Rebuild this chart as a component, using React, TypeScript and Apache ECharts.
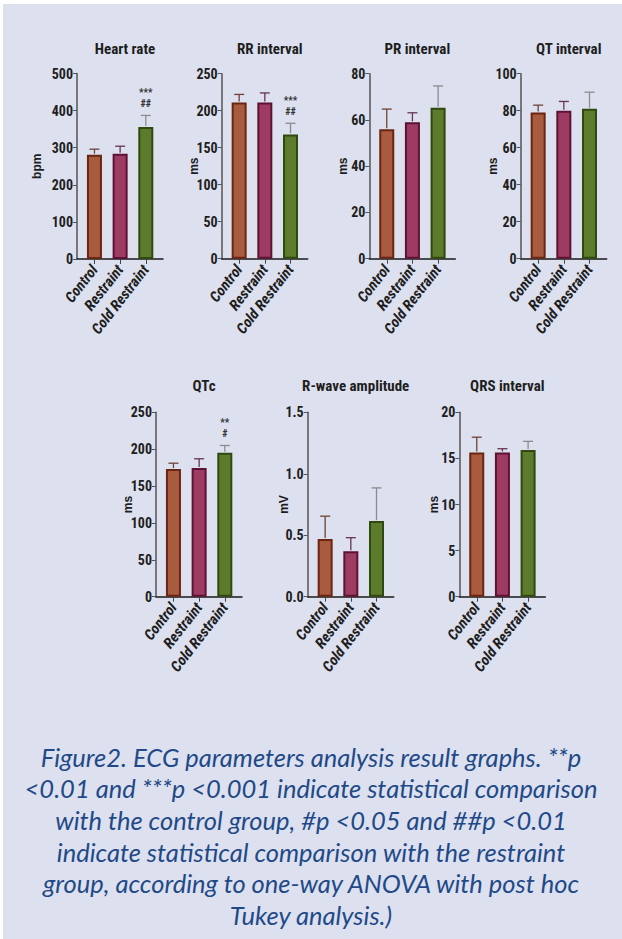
import React, { useEffect, useRef } from "react";
import * as echarts from "echarts";

// ---------- data ----------
const categories = ["Control", "Restraint", "Cold Restraint"];
const panelTitles = ["Heart rate", "RR interval", "PR interval", "QT interval", "QTc", "R-wave amplitude", "QRS interval"];
const units = ["bpm", "ms", "ms", "ms", "ms", "mV", "ms"];

const heartRateMean = [281, 284, 356];
const heartRateErr = [15, 20, 31];
const heartRateAnnot = [[], [], ["***", "##"]];

const rrMean = [211, 211, 168];
const rrErr = [11, 13, 15];
const rrAnnot = [[], [], ["***", "##"]];

const prMean = [56, 59, 65.3];
const prErr = [8.7, 4.1, 9.4];

const qtMean = [79, 80, 81];
const qtErr = [4, 5, 9];

const qtcMean = [173, 174.5, 195];
const qtcErr = [8, 12.5, 10];
const qtcAnnot = [[], [], ["**", "#"]];

const rWaveMean = [0.47, 0.37, 0.615];
const rWaveErr = [0.185, 0.11, 0.27];

const qrsMean = [15.65, 15.65, 15.9];
const qrsErr = [1.65, 0.4, 0.95];

const yMaxes = [500, 250, 80, 100, 250, 1.5, 20];
const ySteps = [100, 50, 20, 20, 50, 0.5, 5];
const yDecimals = [0, 0, 0, 0, 0, 1, 0];

const captionLines = [
  "Figure2. ECG parameters analysis result graphs. **p",
  "<0.01 and ***p <0.001 indicate statistical comparison",
  "with the control group, #p <0.05 and ##p <0.01",
  "indicate statistical comparison with the restraint",
  "group, according to one-way ANOVA with post hoc",
  "Tukey analysis.)",
];

const means = [heartRateMean, rrMean, prMean, qtMean, qtcMean, rWaveMean, qrsMean];
const errs = [heartRateErr, rrErr, prErr, qtErr, qtcErr, rWaveErr, qrsErr];
const annots = [heartRateAnnot, rrAnnot, [[], [], []], [[], [], []], qtcAnnot, [[], [], []], [[], [], []]];

// ---------- layout & style ----------
const layout = [
  { left: 77, top: 73.5, height: 185.5, nameGap: 34 },
  { left: 221.7, top: 73.7, height: 185, nameGap: 22 },
  { left: 369.3, top: 73.7, height: 185, nameGap: 20 },
  { left: 520.7, top: 73.7, height: 185, nameGap: 22 },
  { left: 156, top: 412.3, height: 184.4, nameGap: 22 },
  { left: 307.7, top: 412.3, height: 184.4, nameGap: 18 },
  { left: 459.3, top: 412.3, height: 184.4, nameGap: 19 },
];
const GRID_W = 86;
const X_MIN = 0.32;
const X_MAX = 3.67;

const groupFill = ["#a85b3e", "#9e3b63", "#5c7b2c"];
const groupBorder = ["#6a2612", "#5e1233", "#30490f"];
const errColor = ["#6e4336", "#663650", "#8c8c8c"];
const BG = "#dde0ef";
const FONT = "'Liberation Sans Narrow', 'Arial Narrow', 'Roboto Condensed', 'Liberation Sans', sans-serif";

export default function App() {
  const ref = useRef<HTMLDivElement>(null);

  useEffect(() => {
    if (!ref.current) return;
    const chart = echarts.init(ref.current, undefined, { renderer: "svg" });

    const grids: any[] = [];
    const xAxes: any[] = [];
    const yAxes: any[] = [];
    const series: any[] = [];
    const titles: any[] = [];

    panelTitles.forEach((t, i) => {
      const L = layout[i];
      grids.push({ left: L.left, top: L.top, width: GRID_W, height: L.height, containLabel: false });
      titles.push({
        text: t,
        left: L.left + GRID_W / 2,
        top: i < 4 ? 36 : 373,
        textAlign: "center",
        textStyle: { fontFamily: FONT, fontWeight: "bold", fontSize: 15, color: "#1e1e1e" },
      });
      xAxes.push({
        type: "value",
        gridIndex: i,
        min: X_MIN,
        max: X_MAX,
        splitLine: { show: false },
        axisLine: { show: true, onZero: false, lineStyle: { color: "#1a1a1a", width: 1.5 } },
        axisTick: { show: true, customValues: [1, 2, 3], length: 5, lineStyle: { color: "#444", width: 1 } },
        axisLabel: {
          show: true,
          customValues: [1, 2, 3],
          rotate: 52,
          margin: 8,
          formatter: (v: number) => categories[Math.round(v) - 1] ?? "",
          fontFamily: FONT,
          fontStyle: "italic",
          fontWeight: "bold",
          fontSize: 15,
          color: "#1e1e1e",
        },
      });
      yAxes.push({
        type: "value",
        gridIndex: i,
        min: 0,
        max: yMaxes[i],
        interval: ySteps[i],
        name: units[i],
        nameLocation: "middle",
        nameGap: L.nameGap,
        nameMoveOverlap: false,
        nameTextStyle: { fontFamily: "'Liberation Sans', sans-serif", fontWeight: "bold", fontSize: 12, color: "#1e1e1e" },
        splitLine: { show: false },
        axisLine: { show: true, lineStyle: { color: "#555", width: 1.5 } },
        axisTick: { show: true, length: 4, lineStyle: { color: "#555", width: 1 } },
        axisLabel: {
          margin: 4,
          formatter: (v: number) => v.toFixed(yDecimals[i]),
          fontFamily: FONT,
          fontWeight: "bold",
          fontSize: 14,
          color: "#1e1e1e",
        },
      });
      series.push({
        type: "bar",
        xAxisIndex: i,
        yAxisIndex: i,
        barWidth: 15,
        data: means[i].map((v, k) => ({
          value: [k + 1, v],
          itemStyle: { color: groupFill[k], borderColor: groupBorder[k], borderWidth: 2 },
        })),
      });
      const m = means[i];
      const e = errs[i];
      const an = annots[i];
      series.push({
        type: "custom",
        xAxisIndex: i,
        yAxisIndex: i,
        z: 5,
        data: m.map((v, k) => [k + 1, v, e[k]]),
        renderItem: (params: any, api: any) => {
          const k = params.dataIndex;
          const x = api.value(0);
          const mv = api.value(1);
          const ev = api.value(2);
          const p0 = api.coord([x, mv]);
          const p1 = api.coord([x, mv + ev]);
          const children: any[] = [
            { type: "line", shape: { x1: p0[0], y1: p0[1] - 1, x2: p1[0], y2: p1[1] }, style: { stroke: errColor[k], lineWidth: 1.3 } },
            { type: "line", shape: { x1: p1[0] - 5, y1: p1[1], x2: p1[0] + 5, y2: p1[1] }, style: { stroke: errColor[k], lineWidth: 1.3 } },
          ];
          const a = an[k] || [];
          const offs = [23, 12];
          a.forEach((txt: string, j: number) => {
            children.push({
              type: "text",
              x: p1[0],
              y: p1[1] - offs[j],
              style: {
                text: txt,
                fill: "#333",
                fontSize: 10,
                fontWeight: "bold",
                fontFamily: FONT,
                textAlign: "center",
                textVerticalAlign: "middle",
              },
            });
          });
          return { type: "group", children };
        },
      });
    });

    chart.setOption({
      animation: false,
      backgroundColor: "#ffffff",
      title: titles,
      grid: grids,
      xAxis: xAxes,
      yAxis: yAxes,
      series,
      graphic: [
        { type: "rect", z: -10, shape: { x: 3, y: 4, width: 619, height: 935 }, style: { fill: BG } },
        {
          type: "text",
          left: "center",
          top: 741,
          style: {
            text: captionLines.join("\n"),
            fill: "#1f4a87",
            fontFamily: "Lato, 'Open Sans', sans-serif",
            fontStyle: "italic",
            fontSize: 25.5,
            lineHeight: 31.6,
            textAlign: "center",
          },
        },
      ],
    });
    return () => chart.dispose();
  }, []);

  return <div ref={ref} style={{ position: "absolute", left: 0, top: 0, width: 622, height: 939 }} />;
}
